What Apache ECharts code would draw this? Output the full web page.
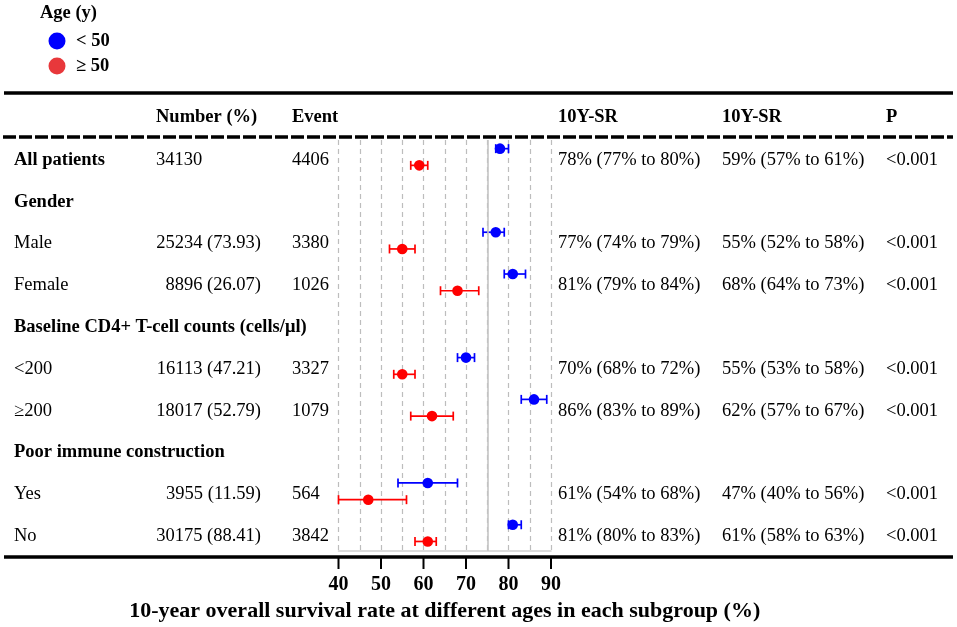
<!DOCTYPE html>
<html>
<head>
<meta charset="utf-8">
<title>Forest plot</title>
<script src="https://cdn.jsdelivr.net/npm/echarts@6/dist/echarts.min.js"></script>
<style>
    html, body { margin: 0; padding: 0; background: #fff; }
    #main { width: 957px; height: 627px; }
</style>
</head>
<body>
<div id="main"></div>
<script>
// table rows
var rowLabels = ['All patients', 'Gender', 'Male', 'Female', 'Baseline CD4+ T-cell counts (cells/μl)',
    '<200', '≥200', 'Poor immune construction', 'Yes', 'No'];
var boldRows = [true, true, false, false, true, false, false, true, false, false];
var numbers = ['34130', '', '25234 (73.93)', '8896 (26.07)', '', '16113 (47.21)', '18017 (52.79)', '', '3955 (11.59)', '30175 (88.41)'];
var events = ['4406', '', '3380', '1026', '', '3327', '1079', '', '564', '3842'];
var pValues = ['<0.001', '', '<0.001', '<0.001', '', '<0.001', '<0.001', '', '<0.001', '<0.001'];
// 10-year survival [estimate, low, high]
var young = [[78, 77, 80], null, [77, 74, 79], [81, 79, 84], null, [70, 68, 72], [86, 83, 89], null, [61, 54, 68], [81, 80, 83]];
var old = [[59, 57, 61], null, [55, 52, 58], [68, 64, 73], null, [55, 53, 58], [62, 57, 67], null, [47, 40, 56], [61, 58, 63]];
var headers = ['Number (%)', 'Event', '10Y-SR', '10Y-SR', 'P'];
var xTicks = [40, 50, 60, 70, 80, 90];
var refLine = 75;

var FONT = 'Liberation Serif';
var FS = 18.5;
var BLUE = '#0000ff';
var RED = '#ff0000';

function srText(d) {
    return d ? d[0] + '% (' + d[1] + '% to ' + d[2] + '%)' : '';
}

function ciData(arr, shift) {
    var out = [];
    arr.forEach(function(d, i) {
        if (d) out.push([d[1], d[2], d[0], i + shift]);
    });
    return out;
}

function renderCI(color) {
    return function(params, api) {
        var y = api.value(3);
        var lo = api.coord([api.value(0), y]);
        var hi = api.coord([api.value(1), y]);
        var mid = api.coord([api.value(2), y]);
        var cap = 4.5;
        var st = { stroke: color, lineWidth: 1.7 };
        return {
            type: 'group',
            children: [
                { type: 'line', shape: { x1: lo[0], y1: lo[1], x2: hi[0], y2: hi[1] }, style: st },
                { type: 'line', shape: { x1: lo[0], y1: lo[1] - cap, x2: lo[0], y2: lo[1] + cap }, style: st },
                { type: 'line', shape: { x1: hi[0], y1: hi[1] - cap, x2: hi[0], y2: hi[1] + cap }, style: st },
                { type: 'circle', shape: { cx: mid[0], cy: mid[1], r: 5.3 }, style: { fill: color } }
            ]
        };
    };
}

var chart = echarts.init(document.getElementById('main'));

var option = {
    backgroundColor: '#fff',
    animation: false,
    grid: { left: 338.5, right: 406, top: 140, bottom: 75 },
    xAxis: [{
        type: 'value',
        min: 40,
        max: 90,
        interval: 5,
        axisLine: { show: true, onZero: false, lineStyle: { color: '#cfcfcf', width: 1.5 } },
        axisTick: { show: false },
        axisLabel: { show: false },
        splitLine: { show: true, lineStyle: { color: '#bdbdbd', width: 1.2, type: [5, 4] } }
    }, {
        type: 'value',
        min: xTicks[0],
        max: xTicks[xTicks.length - 1],
        interval: 10,
        position: 'bottom',
        offset: 5,
        axisLine: { show: false, onZero: false },
        axisTick: { show: false },
        axisLabel: { margin: 19, color: '#000', fontFamily: FONT, fontWeight: 'bold', fontSize: 20 },
        splitLine: { show: false },
        name: '10-year overall survival rate at different ages in each subgroup (%)',
        nameLocation: 'middle',
        nameGap: 44,
        nameTextStyle: { color: '#000', fontFamily: FONT, fontWeight: 'bold', fontSize: 22 }
    }],
    yAxis: {
        type: 'value',
        min: -0.477,
        max: 9.358,
        inverse: true,
        show: false
    },
    series: [{
        type: 'custom',
        name: '< 50',
        xAxisIndex: 0,
        renderItem: renderCI(BLUE),
        encode: { x: [0, 1, 2], y: 3 },
        data: ciData(young, -0.27),
        markLine: {
            silent: true,
            symbol: 'none',
            label: { show: false },
            lineStyle: { color: '#c4c4c4', width: 1.6, type: 'solid' },
            data: [{ xAxis: refLine }]
        },
        z: 3
    }, {
        type: 'custom',
        name: '≥ 50',
        xAxisIndex: 1,
        renderItem: renderCI(RED),
        encode: { x: [0, 1, 2], y: 3 },
        data: ciData(old, 0.13),
        z: 3
    }]
};
chart.setOption(option);

// table, legend and rules as graphic elements, rows tied to the y axis
function txt(x, y, s, bold, align, size) {
    return {
        type: 'text',
        x: x,
        y: y,
        silent: true,
        style: {
            text: s,
            fill: '#000',
            font: (bold ? 'bold ' : '') + (size || FS) + 'px "' + FONT + '"',
            textAlign: align || 'left',
            textVerticalAlign: 'middle'
        }
    };
}

var g = [];
// legend
g.push(txt(40, 13, 'Age (y)', true));
g.push({ type: 'circle', shape: { cx: 57, cy: 41, r: 8.5 }, style: { fill: BLUE } });
g.push({ type: 'circle', shape: { cx: 57, cy: 66, r: 8.5 }, style: { fill: '#e8383b' } });
g.push(txt(76, 41, '< 50', true));
g.push(txt(76, 66, '≥ 50', true));

// rules
var bottomRule = 557;
g.push({ type: 'line', shape: { x1: 4, y1: 93, x2: 953, y2: 93 }, style: { stroke: '#000', lineWidth: 3.5 } });
g.push({ type: 'line', shape: { x1: 3, y1: 137, x2: 953, y2: 137 }, style: { stroke: '#000', lineWidth: 3.5, lineDash: [13, 3] } });
g.push({ type: 'line', shape: { x1: 4, y1: bottomRule, x2: 953, y2: bottomRule }, style: { stroke: '#000', lineWidth: 3.5 } });

// axis ticks under the bottom rule, x taken from the grid's scale
xTicks.forEach(function(v) {
    var pt = chart.convertToPixel({ gridIndex: 0 }, [v, 0]);
    if (pt && isFinite(pt[0])) {
        g.push({
            type: 'rect',
            z: 100,
            shape: { x: pt[0] - 1, y: bottomRule, width: 2, height: 12 },
            style: { fill: '#000' }
        });
    }
});

// header
var colX = [156, 292, 558, 722, 886];
headers.forEach(function(h, k) {
    g.push(txt(colX[k], 117, h, true));
});

rowLabels.forEach(function(lab, i) {
    var y = chart.convertToPixel({ yAxisIndex: 0 }, i);
    g.push(txt(14, y, lab, boldRows[i]));
    if (numbers[i]) {
        if (numbers[i].indexOf('(') >= 0) g.push(txt(261, y, numbers[i], false, 'right'));
        else g.push(txt(156, y, numbers[i], false));
    }
    if (events[i]) g.push(txt(292, y, events[i], false));
    if (young[i]) g.push(txt(558, y, srText(young[i]), false));
    if (old[i]) g.push(txt(722, y, srText(old[i]), false));
    if (pValues[i]) g.push(txt(886, y, pValues[i], false));
});

chart.setOption({ graphic: g });
</script>
</body>
</html>
